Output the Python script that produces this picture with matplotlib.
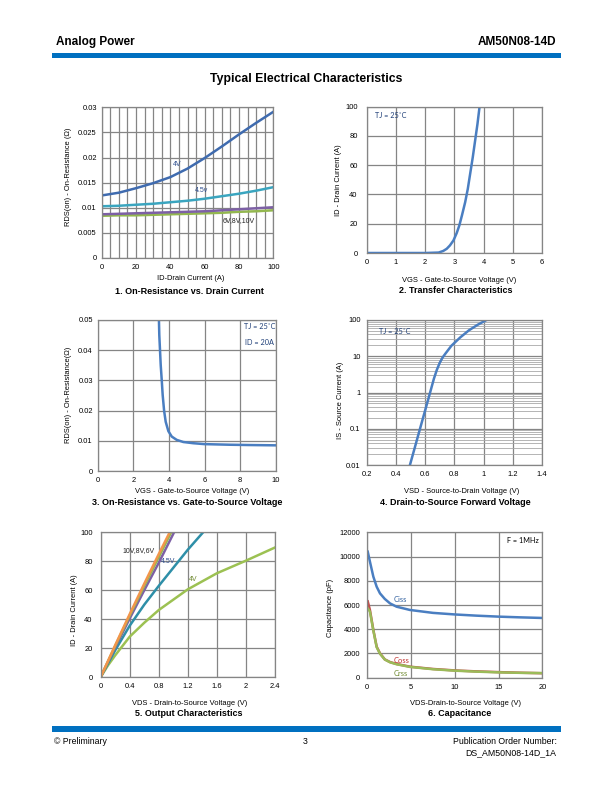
import numpy as np
import matplotlib
matplotlib.use("Agg")
import matplotlib.pyplot as plt
from matplotlib.ticker import FixedLocator, FuncFormatter, LogLocator, NullFormatter

plt.rcParams['font.family'] = ['Liberation Sans', 'DejaVu Sans']

# ---- 1. On-resistance vs drain current
id_1 = [0, 10, 20, 30, 40, 50, 60, 70, 80, 90, 100]
rds_4v = [0.01245, 0.0130, 0.0139, 0.0149, 0.0161, 0.0178, 0.0199, 0.0222, 0.0246, 0.0269, 0.0291]
rds_45v = [0.0103, 0.0104, 0.0106, 0.0108, 0.0111, 0.0114, 0.0118, 0.0123, 0.0128, 0.0134, 0.0141]
rds_6v = [0.0087, 0.0088, 0.0089, 0.0090, 0.0091, 0.0092, 0.0093, 0.0095, 0.0097, 0.0099, 0.0101]
rds_8v10v = [0.0084, 0.0085, 0.0085, 0.0086, 0.0087, 0.0088, 0.0089, 0.0090, 0.0092, 0.0093, 0.0095]

# ---- 2. Transfer characteristics
vgs_2 = [0, 2.0, 2.46, 2.62, 2.74, 2.85, 2.97, 3.08, 3.17, 3.26, 3.37, 3.46, 3.54, 3.63, 3.71, 3.79, 3.86]
id_2 = [0, 0, 0.3, 1.4, 2.9, 5.2, 8.6, 13.6, 18.8, 25.7, 34.7, 43.8, 54, 65.4, 76.7, 88, 99.5]

# ---- 3. On-resistance vs gate voltage
vgs_3 = [3.44, 3.46, 3.5, 3.54, 3.6, 3.65, 3.73, 3.82, 3.97, 4.16, 4.44, 4.81, 5.37, 6.0, 7.4, 8.5, 10.0]
rds_3 = [0.05, 0.045, 0.0401, 0.0351, 0.0299, 0.0252, 0.020, 0.0163, 0.0132, 0.0114, 0.0103,
         0.0096, 0.0092, 0.0089, 0.0087, 0.0086, 0.0085]

# ---- 4. Body diode forward voltage
vsd_4 = [0.496, 0.53, 0.56, 0.60, 0.63, 0.66, 0.68, 0.70, 0.72, 0.74, 0.78, 0.84, 0.90, 0.96, 1.02]
is_4 = [0.01, 0.031, 0.085, 0.32, 0.87, 2.4, 4.2, 6.6, 9.3, 12, 19.5, 33, 52, 74, 100]

# ---- 5. Output characteristics
vds_10v = [0, 0.2, 0.4, 0.6, 0.8, 0.95]
id_10v = [0, 22, 43.5, 64.5, 85, 100]
vds_8v = [0, 0.2, 0.4, 0.6, 0.8, 0.97]
id_8v = [0, 21.5, 42.5, 63, 83, 100]
vds_6v = [0, 0.2, 0.4, 0.6, 0.8, 1.01]
id_6v = [0, 20.5, 40.5, 60, 79, 100]
vds_45v = [0, 0.2, 0.4, 0.6, 0.8, 1.0, 1.2, 1.41]
id_45v = [0, 18.5, 35.5, 50, 63, 75.5, 88, 100]
vds_4v = [0, 0.1, 0.2, 0.4, 0.6, 0.8, 1.2, 1.6, 2.0, 2.4]
id_4v = [0, 8, 15, 27.9, 37.5, 46.3, 60.6, 71.7, 80.4, 89.5]

# ---- 6. Capacitance
vds_6 = [0.05, 0.3, 0.69, 1.07, 1.45, 2.0, 2.6, 3.35, 4.88, 7.5, 10, 12.5, 15, 17.5, 20]
ciss = [10400, 9580, 8340, 7510, 6960, 6500, 6130, 5860, 5590, 5350, 5220, 5120, 5040, 4980, 4930]
coss = [6300, 5590, 3940, 2560, 2010, 1510, 1290, 1130, 910, 720, 600, 520, 460, 410, 370]
crss = [5720, 5450, 3900, 2520, 1980, 1500, 1270, 1110, 890, 700, 580, 500, 440, 400, 380]

W, H = 612, 792
GRID = '#858585'
CURVE = '#4a7ec1'
NOTE = '#1f3f78'
NOTE_FONT = ['Lato', 'DejaVu Sans']


def fx(px):
    return px / W


def fy(py):
    return 1 - py / H


def make_ax(fig, left, top, right, bottom, xpad, ypad):
    ax = fig.add_axes([fx(left), fy(bottom), (right - left) / W, (bottom - top) / H])
    for s in ax.spines.values():
        s.set_color(GRID)
        s.set_linewidth(0.9)
    ax.tick_params(length=0, labelsize=5.4, colors='black')
    ax.tick_params(axis='x', pad=xpad)
    ax.tick_params(axis='y', pad=ypad)
    ax.grid(True, color=GRID, lw=0.9)
    ax.set_axisbelow(True)
    return ax


def labels(fig, xl, xl_xy, yl, yl_xy, cap, cap_xy):
    fig.text(fx(xl_xy[0]), fy(xl_xy[1]), xl, fontsize=5.4, ha='center', va='center')
    fig.text(fx(yl_xy[0]), fy(yl_xy[1]), yl, fontsize=5.4, ha='center', va='center', rotation=90)
    fig.text(fx(cap_xy[0]), fy(cap_xy[1]), cap, fontsize=6.5, fontweight='bold', ha='center', va='center')


gfmt = FuncFormatter(lambda v, p: f"{v:g}")

fig = plt.figure(figsize=(6.12, 7.92), dpi=100)

# header / footer
fig.text(fx(55.5), fy(42.2), "Analog Power", fontsize=8.5, fontweight='bold', ha='left', va='center')
fig.text(fx(556.5), fy(42.2), "AM50N08-14D", fontsize=8.5, fontweight='bold', ha='right', va='center')
fig.patches.append(plt.Rectangle((fx(52), fy(58)), (560.6 - 52) / W, 4.8 / H,
                                 transform=fig.transFigure, color='#0070c0', lw=0))
fig.text(fx(306), fy(79), "Typical Electrical Characteristics", fontsize=8.8, fontweight='bold',
         ha='center', va='center')
fig.patches.append(plt.Rectangle((fx(52), fy(732)), (560.6 - 52) / W, 5.8 / H,
                                 transform=fig.transFigure, color='#0070c0', lw=0))
fig.text(fx(53.8), fy(741.7), "© Preliminary", fontsize=6.3, ha='left', va='center')
fig.text(fx(305), fy(741.7), "3", fontsize=6.3, ha='center', va='center')
fig.text(fx(556.5), fy(741.7), "Publication Order Number:", fontsize=6.3, ha='right', va='center')
fig.text(fx(556.5), fy(752.7), "DS_AM50N08-14D_1A", fontsize=6.3, ha='right', va='center')

# 1
ax = make_ax(fig, 101.7, 107.3, 273.3, 258, 4.3, 3.5)
ax.set_xlim(0, 100)
ax.set_ylim(0, 0.03)
ax.xaxis.set_major_locator(FixedLocator(range(0, 101, 20)))
ax.xaxis.set_minor_locator(FixedLocator(range(0, 101, 5)))
ax.grid(True, which='minor', axis='x', color=GRID, lw=0.9)
ax.yaxis.set_major_locator(FixedLocator(np.arange(0, 0.0301, 0.005)))
ax.xaxis.set_major_formatter(gfmt)
ax.yaxis.set_major_formatter(gfmt)
ax.tick_params(which='minor', length=0)
ax.plot(id_1, rds_4v, color='#3f6baf', lw=1.8)
ax.plot(id_1, rds_45v, color='#3aa5bf', lw=1.8)
ax.plot(id_1, rds_8v10v, color='#93b74f', lw=1.8)
ax.plot(id_1, rds_6v, color='#7d60a5', lw=1.8)
ax.text(44, 0.0186, "4V", fontsize=5, color='#2f4f8f', ha='center', va='center')
ax.text(58.4, 0.0135, "4.5v", fontsize=5, color='#2f4f8f', ha='center', va='center')
ax.text(79.8, 0.0074, "6V,8V,10V", fontsize=5, color='#222222', ha='center', va='center')
labels(fig, "ID-Drain Current (A)", (191, 278), "RDS(on) - On-Resistance (Ω)", (68.3, 177),
       "1. On-Resistance vs. Drain Current", (189, 291))

# 2
ax = make_ax(fig, 366.7, 106.7, 542, 253, 4.5, 6.5)
ax.set_xlim(0, 6)
ax.set_ylim(0, 100)
ax.xaxis.set_major_locator(FixedLocator(range(0, 7)))
ax.yaxis.set_major_locator(FixedLocator(range(0, 101, 20)))
ax.plot(vgs_2, id_2, color=CURVE, lw=1.8)
ax.text(0.28, 94, "TJ = 25˚C", fontsize=5.2, color=NOTE, ha='left', va='center', family=NOTE_FONT)
labels(fig, "VGS - Gate-to-Source Voltage (V)", (459, 280), "ID - Drain Current (A)", (338, 180),
       "2. Transfer Characteristics", (455.5, 290.7))

# 3
ax = make_ax(fig, 97.7, 320, 275.7, 471, 4.3, 3.5)
ax.set_xlim(0, 10)
ax.set_ylim(0, 0.05)
ax.xaxis.set_major_locator(FixedLocator(range(0, 11, 2)))
ax.yaxis.set_major_locator(FixedLocator(np.arange(0, 0.0501, 0.01)))
ax.yaxis.set_major_formatter(gfmt)
ax.plot(vgs_3, rds_3, color=CURVE, lw=1.8)
ax.text(9.1, 0.0478, "TJ = 25˚C", fontsize=5.2, color=NOTE, ha='center', va='center', family=NOTE_FONT)
ax.text(9.1, 0.0426, "ID = 20A", fontsize=5.2, color=NOTE, ha='center', va='center', family=NOTE_FONT)
labels(fig, "VGS - Gate-to-Source Voltage (V)", (191.7, 491.7), "RDS(on) - On-Resistance(Ω)", (68, 395),
       "3. On-Resistance vs. Gate-to-Source Voltage", (187.5, 502.7))

# 4
ax = make_ax(fig, 366.7, 320, 542, 465, 4.5, 4.3)
ax.set_yscale('log')
ax.set_xlim(0.2, 1.4)
ax.set_ylim(0.01, 100)
ax.xaxis.set_major_locator(FixedLocator(np.arange(0.2, 1.41, 0.2)))
ax.xaxis.set_major_formatter(gfmt)
ax.yaxis.set_major_locator(LogLocator(base=10, numticks=10))
ax.yaxis.set_minor_locator(LogLocator(base=10, subs=np.arange(2, 10), numticks=10))
ax.yaxis.set_major_formatter(gfmt)
ax.yaxis.set_minor_formatter(NullFormatter())
ax.tick_params(which='minor', length=0)
ax.grid(True, which='minor', axis='y', color='#a8a8a8', lw=0.6)
ax.plot(vsd_4, is_4, color=CURVE, lw=1.8)
ax.text(0.394, 47, "TJ = 25˚C", fontsize=5.2, color=NOTE, ha='center', va='center', family=NOTE_FONT)
labels(fig, "VSD - Source-to-Drain Voltage (V)", (462, 491.7), "IS - Source Current (A)", (341, 400),
       "4. Drain-to-Source Forward Voltage", (455.8, 502.7))

# 5
ax = make_ax(fig, 100.7, 532.3, 275, 677, 4.6, 5.8)
ax.set_xlim(0, 2.4)
ax.set_ylim(0, 100)
ax.xaxis.set_major_locator(FixedLocator(np.arange(0, 2.41, 0.4)))
ax.xaxis.set_major_formatter(gfmt)
ax.yaxis.set_major_locator(FixedLocator(range(0, 101, 20)))
ax.plot(vds_4v, id_4v, color='#9cc152', lw=1.8)
ax.plot(vds_45v, id_45v, color='#2e8fa8', lw=1.8)
ax.plot(vds_6v, id_6v, color='#7d60a5', lw=1.8)
ax.plot(vds_8v, id_8v, color='#93b74f', lw=1.8)
ax.plot(vds_10v, id_10v, color='#f2954b', lw=1.8)
ax.text(0.52, 87.3, "10V,8V,6V", fontsize=5, color='#222222', ha='center', va='center')
ax.text(0.93, 79.7, "4.5V", fontsize=5, color='#2f4f8f', ha='center', va='center')
ax.text(1.27, 67.5, "4V", fontsize=5, color='#6f8a30', ha='center', va='center')
labels(fig, "VDS - Drain-to-Source Voltage (V)", (190, 703.3), "ID - Drain Current (A)", (74.3, 610),
       "5. Output Characteristics", (189, 714))

# 6
ax = make_ax(fig, 367.3, 532.3, 542.3, 677.7, 4.5, 5)
ax.set_xlim(0, 20)
ax.set_ylim(0, 12000)
ax.xaxis.set_major_locator(FixedLocator(range(0, 21, 5)))
ax.yaxis.set_major_locator(FixedLocator(range(0, 12001, 2000)))
ax.plot(vds_6, ciss, color=CURVE, lw=1.8)
ax.plot(vds_6, coss, color='#c0504d', lw=1.8)
ax.plot(vds_6, crss, color='#9bbb59', lw=1.8)
ax.text(3.8, 6470, "Ciss", fontsize=5.4, color='#2f5f9f', ha='center', va='center', family=NOTE_FONT)
ax.text(3.9, 1460, "Coss", fontsize=5.4, color='#c0302d', ha='center', va='center', family=NOTE_FONT)
ax.text(3.8, 330, "Crss", fontsize=5.4, color='#6f8a30', ha='center', va='center', family=NOTE_FONT)
ax.text(17.8, 11310, "F = 1MHz", fontsize=5.2, color='black', ha='center', va='center', family=NOTE_FONT)
labels(fig, "VDS-Drain-to-Source Voltage (V)", (465.8, 703.3), "Capacitance (pF)", (331, 608),
       "6. Capacitance", (460, 714))

fig.savefig("out.png", dpi=100)
